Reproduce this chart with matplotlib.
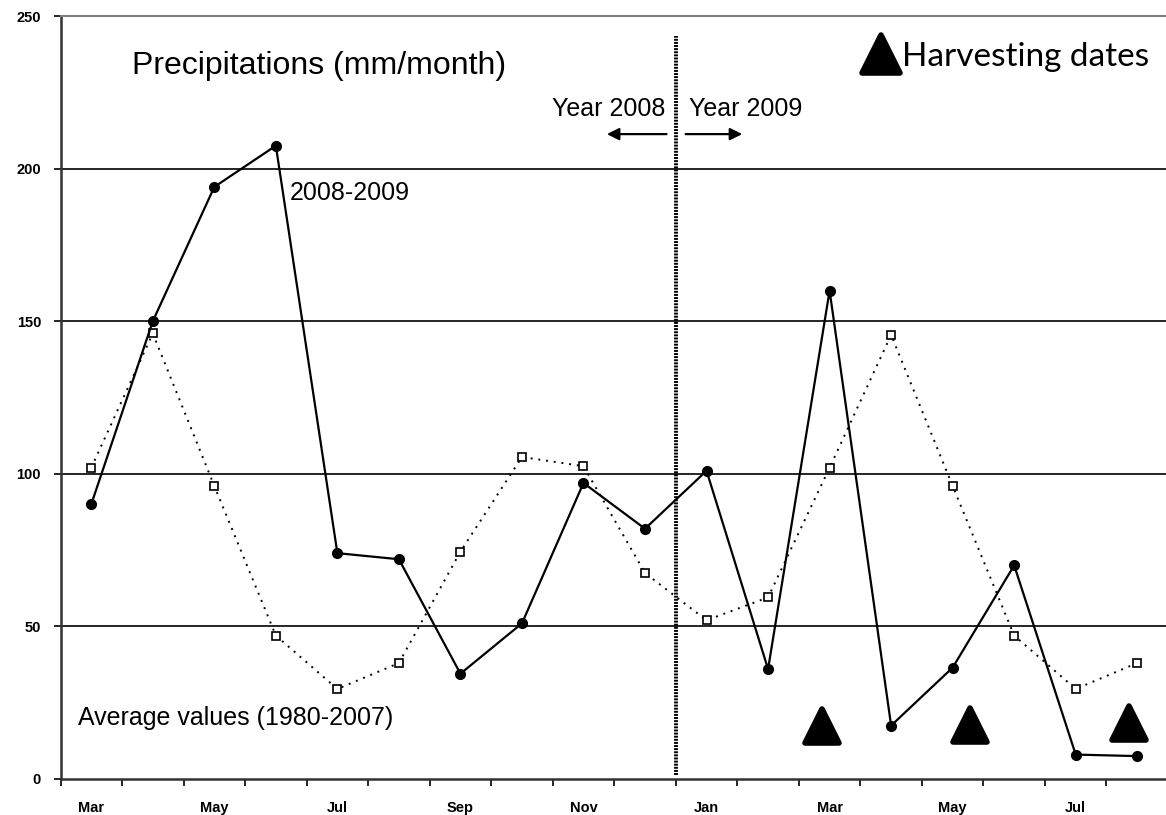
"""Monthly precipitation 2008-2009 vs. 1980-2007 averages, with harvesting dates."""
import matplotlib
matplotlib.use("Agg")
import matplotlib.pyplot as plt
from matplotlib.markers import MarkerStyle
import numpy as np

months = ["Mar", "Apr", "May", "Jun", "Jul", "Aug", "Sep", "Oct", "Nov", "Dec",
          "Jan", "Feb", "Mar", "Apr", "May", "Jun", "Jul", "Aug"]
rain_2008_2009 = [90, 150, 194, 207.5, 74, 72, 34.5, 51, 97, 82,
                  101, 36, 160, 17.5, 36.5, 70, 8, 7.5]
rain_average = [102, 146, 96, 47, 29.5, 38, 74.5, 105.5, 102.5, 67.5,
                52, 59.5, 102, 145.5, 96, 47, 29.5, 38]
# harvest positions on the month axis (fractional month index) and plot height
harvest_x = [11.87, 14.28, 16.87]
harvest_y = [17.3, 17.6, 18.2]
year_break = 9.5  # between Dec 2008 and Jan 2009

x = np.arange(len(months))
tri = MarkerStyle("^", joinstyle="round")

fig = plt.figure(figsize=(11.66, 8.15), dpi=100)
ax = fig.add_axes([60.5 / 1166, 36 / 815, 1107.5 / 1166, 763 / 815])

ax.set_xlim(-0.5, len(months) - 0.5)
ax.set_ylim(0, 250)

for v in (50, 100, 150, 200):
    ax.axhline(v, color="black", lw=1.2, zorder=1)

ax.plot(x, rain_average, color="black", lw=1.4, linestyle=(0, (1, 3)),
        marker="s", markersize=6, markerfacecolor="white",
        markeredgecolor="black", markeredgewidth=1.2, zorder=3)
ax.plot(x, rain_2008_2009, color="black", lw=1.6, marker="o",
        markersize=7, zorder=4)

ax.plot(harvest_x, harvest_y, linestyle="none", marker=tri, markersize=25,
        color="black", markeredgewidth=4, zorder=5)

ax.vlines(year_break, 1.3, 243.5, color="black", lw=2.8,
          linestyles=(0, (0.5, 0.3)), zorder=2)

# spines / ticks
ax.spines["right"].set_visible(False)
ax.spines["top"].set_color("#808080")
ax.spines["top"].set_linewidth(1.5)
ax.spines["left"].set_color("#333333")
ax.spines["left"].set_linewidth(1.8)
ax.spines["bottom"].set_color("#333333")
ax.spines["bottom"].set_linewidth(1.8)

ax.set_yticks([0, 50, 100, 150, 200, 250])
ax.tick_params(axis="y", direction="out", length=5, width=1.2, pad=9,
               labelsize=10.5)
ax.set_xticks(np.arange(-0.5, len(months) - 0.5, 1.0))
ax.set_xticklabels([])
ax.tick_params(axis="x", direction="out", length=5, width=1.2)
ax.set_xticks(x[::2], minor=True)
ax.set_xticklabels(months[::2], minor=True)
ax.tick_params(axis="x", which="minor", length=0, pad=16, labelsize=10.5)
for lbl in ax.get_xticklabels(minor=True) + ax.get_yticklabels():
    lbl.set_fontfamily("Liberation Sans")
    lbl.set_fontweight("bold")

txt = dict(family="Liberation Sans", color="black", va="center")
ax.text(0.66, 233.5, "Precipitations (mm/month)", fontsize=23, **txt)
ax.text(3.23, 192, "2008-2009", fontsize=18, **txt)
ax.text(-0.22, 20, "Average values (1980-2007)", fontsize=18, **txt)
ax.text(9.33, 219.5, "Year 2008", fontsize=18, ha="right", **txt)
ax.text(9.72, 219.5, "Year 2009", fontsize=18, ha="left", **txt)

arrow = dict(arrowstyle="-|>", color="black", lw=1.6, mutation_scale=18,
             shrinkA=0, shrinkB=0)
ax.annotate("", xy=(8.38, 211.3), xytext=(9.35, 211.3), arrowprops=arrow)
ax.annotate("", xy=(10.58, 211.3), xytext=(9.66, 211.3), arrowprops=arrow)

# harvest legend
ax.plot([12.83], [237.5], linestyle="none", marker=tri, markersize=27,
        color="black", markeredgewidth=4)
ax.text(13.18, 236.5, "Harvesting dates", fontsize=24, family="Lato",
        color="black", va="center", ha="left")

fig.savefig("out.png", dpi=100)
